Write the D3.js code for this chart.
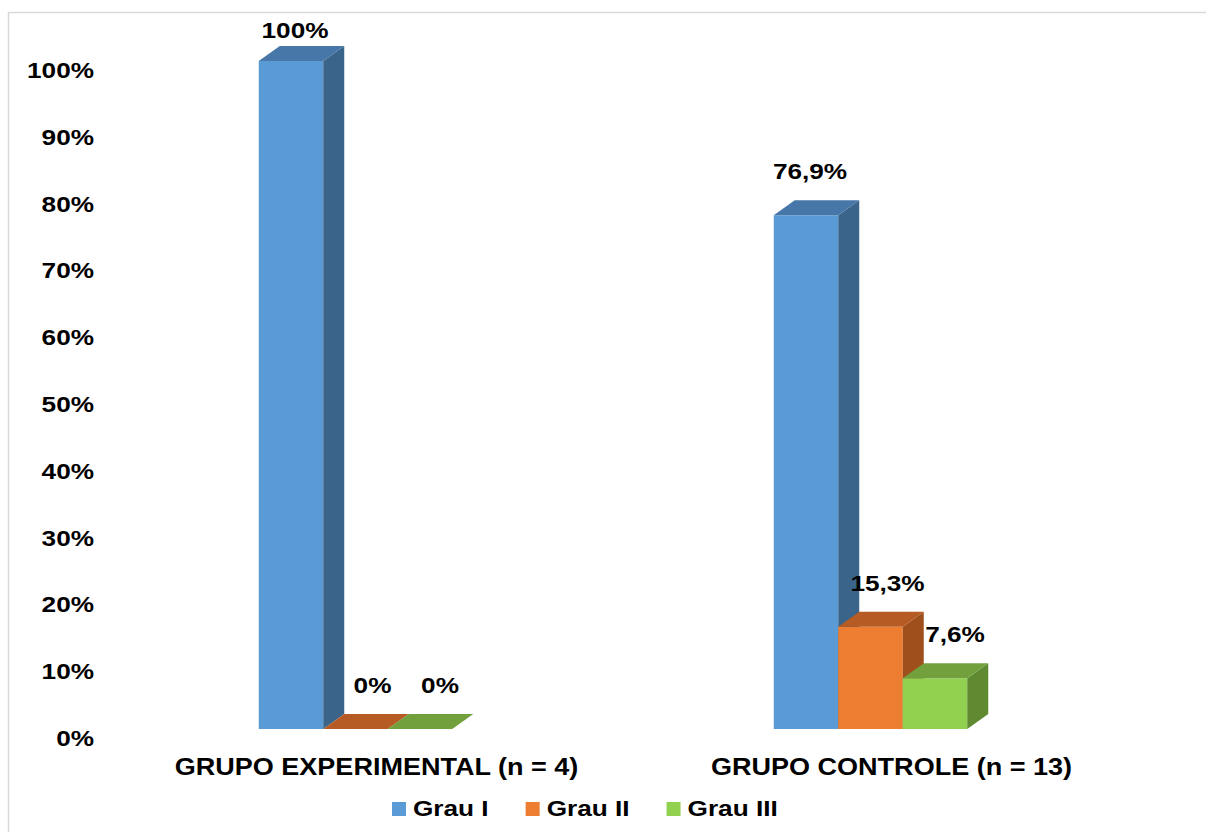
<!DOCTYPE html>
<html>
<head>
<meta charset="utf-8">
<script src="https://cdn.jsdelivr.net/npm/d3@7"></script>
<style>
  html, body { margin: 0; padding: 0; background: #ffffff; }
  svg { display: block; }
  text { font-family: "Liberation Sans", Arial, sans-serif; font-weight: bold; fill: #000; }
</style>
</head>
<body>
<svg id="chart" width="1206" height="832"></svg>
<script>
// Categories, series and values
const groups = ["GRUPO EXPERIMENTAL (n = 4)", "GRUPO CONTROLE (n = 13)"];
const seriesNames = ["Grau I", "Grau II", "Grau III"];
const grauI   = [100, 76.9];
const grauII  = [0, 15.3];
const grauIII = [0, 7.6];
const valueLabels = [["100%", "76,9%"], ["0%", "15,3%"], ["0%", "7,6%"]];
const yTicks = [0, 10, 20, 30, 40, 50, 60, 70, 80, 90, 100];

const seriesValues = [grauI, grauII, grauIII];

// Face colours for each series: front, right side, top
const faces = [
  { front: "#5B9BD5", side: "#3A6489", top: "#4777A8" },
  { front: "#ED7D31", side: "#9F4F1C", top: "#B55B23" },
  { front: "#92D050", side: "#5F8A31", top: "#71A03D" }
];

const svg = d3.select("#chart");
const stretch = 1.19;   // horizontal stretch of the lettering

// Chart frame
svg.append("rect")
  .attr("x", 8.5).attr("y", 12.5)
  .attr("width", 1220).attr("height", 840)
  .attr("fill", "none").attr("stroke", "#d9d9d9").attr("stroke-width", 1.5);

// 3D depth of the boxes
const dx = 21, dy = -15;

const y = d3.scaleLinear().domain([0, 100]).range([729, 61]);
const x0 = d3.scaleBand().domain(groups).range([98, 1128]).padding(0);
const x1 = d3.scaleBand().domain(d3.range(seriesNames.length)).range([-96.75, 96.75]);

function stretchedText(sel, x, yy, anchor, size, str) {
  return sel.append("text")
    .attr("transform", `translate(${x},${yy}) scale(${stretch},1)`)
    .attr("text-anchor", anchor)
    .attr("font-size", size)
    .text(str);
}

// Y axis labels
const yAxisG = svg.append("g");
yTicks.forEach(t => {
  stretchedText(yAxisG, 94, y(t) + 17, "end", 22, t + "%");
});

// Boxes
const barsG = svg.append("g");
groups.forEach((g, gi) => {
  const cx = x0(g) + x0.bandwidth() / 2;
  seriesValues.forEach((vals, si) => {
    const v = vals[gi];
    const xl = cx + x1(si);
    const xr = xl + x1.bandwidth();
    const yt = y(v), yb = y(0);
    const c = faces[si];
    const box = barsG.append("g");
    if (v > 0) {
      box.append("polygon")
        .attr("points", [[xl, yt], [xr, yt], [xr, yb], [xl, yb]].join(" "))
        .attr("fill", c.front);
      box.append("polygon")
        .attr("points", [[xr, yt], [xr + dx, yt + dy], [xr + dx, yb + dy], [xr, yb]].join(" "))
        .attr("fill", c.side);
    }
    box.append("polygon")
      .attr("points", [[xl, yt], [xl + dx, yt + dy], [xr + dx, yt + dy], [xr, yt]].join(" "))
      .attr("fill", c.top);
  });
});

// Value labels above each box
const labelShift = [4, 17, 20];
const labelsG = svg.append("g");
groups.forEach((g, gi) => {
  const cx = x0(g) + x0.bandwidth() / 2;
  seriesValues.forEach((vals, si) => {
    const v = vals[gi];
    const center = cx + x1(si) + x1.bandwidth() / 2 + labelShift[si];
    const base = Math.max(y(v) + dy - 21, 38);
    stretchedText(labelsG, center, base, "middle", 22, valueLabels[si][gi]);
  });
});

// Category labels
const catG = svg.append("g");
groups.forEach(g => {
  const cx = x0(g) + x0.bandwidth() / 2 + dx;
  stretchedText(catG, cx, 775, "middle", 23.5, g).attr("transform",
    `translate(${cx},775) scale(1.15,1)`);
});

// Legend
const legendG = svg.append("g");
let lx = 392;
seriesNames.forEach((name, si) => {
  legendG.append("rect")
    .attr("x", lx).attr("y", 802)
    .attr("width", 14).attr("height", 14)
    .attr("fill", faces[si].front);
  const t = stretchedText(legendG, lx + 21, 816, "start", 22, name);
  const w = t.node().getComputedTextLength() * stretch;
  lx += 21 + w + 37;
});
</script>
</body>
</html>
